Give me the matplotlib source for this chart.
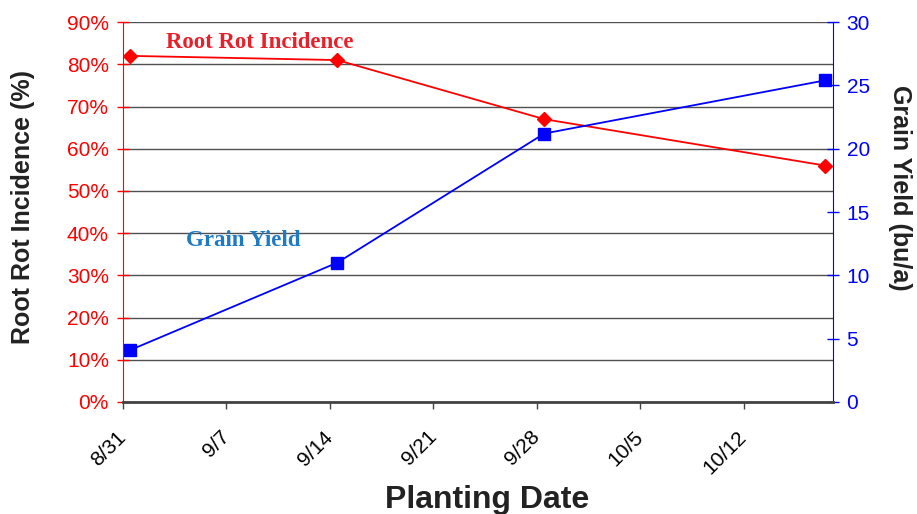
import matplotlib.pyplot as plt
import pandas as pd

plt.rcParams['font.family'] = ['Liberation Sans', 'DejaVu Sans']

# planting dates and measurements
dates = ['2000-08-31', '2000-09-14', '2000-09-28', '2000-10-17']
root_rot = [82, 81, 67, 56]          # %
grain_yield = [4.1, 11.0, 21.2, 25.4]  # bu/a
tick_labels = ['8/31', '9/7', '9/14', '9/21', '9/28', '10/5', '10/12']

start = pd.Timestamp('2000-08-31')
days = [(pd.Timestamp(d) - start).days for d in dates]
x = [d + 0.5 for d in days]  # excel centres points inside the day

fig = plt.figure(figsize=(9.17, 5.14), dpi=100)
ax = fig.add_axes([0.134, 0.218, 0.774, 0.739])
ax2 = ax.twinx()

ax.plot(x, root_rot, color='#ff0000', lw=1.3, marker='D', ms=7,
        zorder=3)
ax2.plot(x, grain_yield, color='#0000ff', lw=1.3, marker='s', ms=8,
         zorder=3)

ax.set_xlim(0, 48)
ax.set_ylim(0, 90)
ax2.set_ylim(0, 30)

ax.set_xticks([7 * i for i in range(len(tick_labels))])
ax.set_xticklabels(tick_labels, rotation=45, ha='right', va='center',
                   rotation_mode='anchor', fontsize=15)
ax.set_yticks(range(0, 91, 10))
ax.set_yticklabels([f'{v}%' for v in range(0, 91, 10)], fontsize=15,
                   color='#ff0000')
ax2.set_yticks(range(0, 31, 5))
ax2.set_yticklabels([str(v) for v in range(0, 31, 5)], fontsize=15,
                    color='#0000ff')

ax.yaxis.grid(True, color='#505050', lw=1)
ax.set_axisbelow(True)

ax.tick_params(axis='x', direction='out', length=5, width=1,
               color='#444444', pad=18)
ax.tick_params(axis='y', direction='inout', length=8, width=1,
               color='#ff0000', pad=6)
ax2.tick_params(axis='y', direction='inout', length=8, width=1,
                color='#0000ff', pad=6)

for a in (ax, ax2):
    a.spines['top'].set_visible(False)
ax.spines['right'].set_visible(False)
ax2.spines['left'].set_visible(False)
ax.spines['left'].set_color('#ff0000')
ax2.spines['right'].set_color('#0000ff')
ax2.spines['bottom'].set_color('#444444')
ax2.spines['bottom'].set_linewidth(2)

fig.text(0.531, 0.028, 'Planting Date', ha='center', va='center',
         fontsize=23, fontweight='bold', color='#222222')
fig.text(0.025, 0.597, 'Root Rot Incidence (%)', ha='center', va='center',
         rotation=90, fontsize=18, fontweight='bold', color='#222222')
fig.text(0.981, 0.634, 'Grain Yield (bu/a)', ha='center', va='center',
         rotation=-90, fontsize=18, fontweight='bold', color='#222222')

ax.text(0.193, 0.945, 'Root Rot Incidence',
        transform=ax.transAxes, ha='center', va='center', fontsize=16.5,
        fontweight='bold', family='Liberation Serif', color='#e8202a')
ax.text(0.169, 0.424, 'Grain Yield',
        transform=ax.transAxes, ha='center', va='center', fontsize=16.5,
        fontweight='bold', family='Liberation Serif', color='#1f7ac4')

fig.savefig('out.png', dpi=100)
